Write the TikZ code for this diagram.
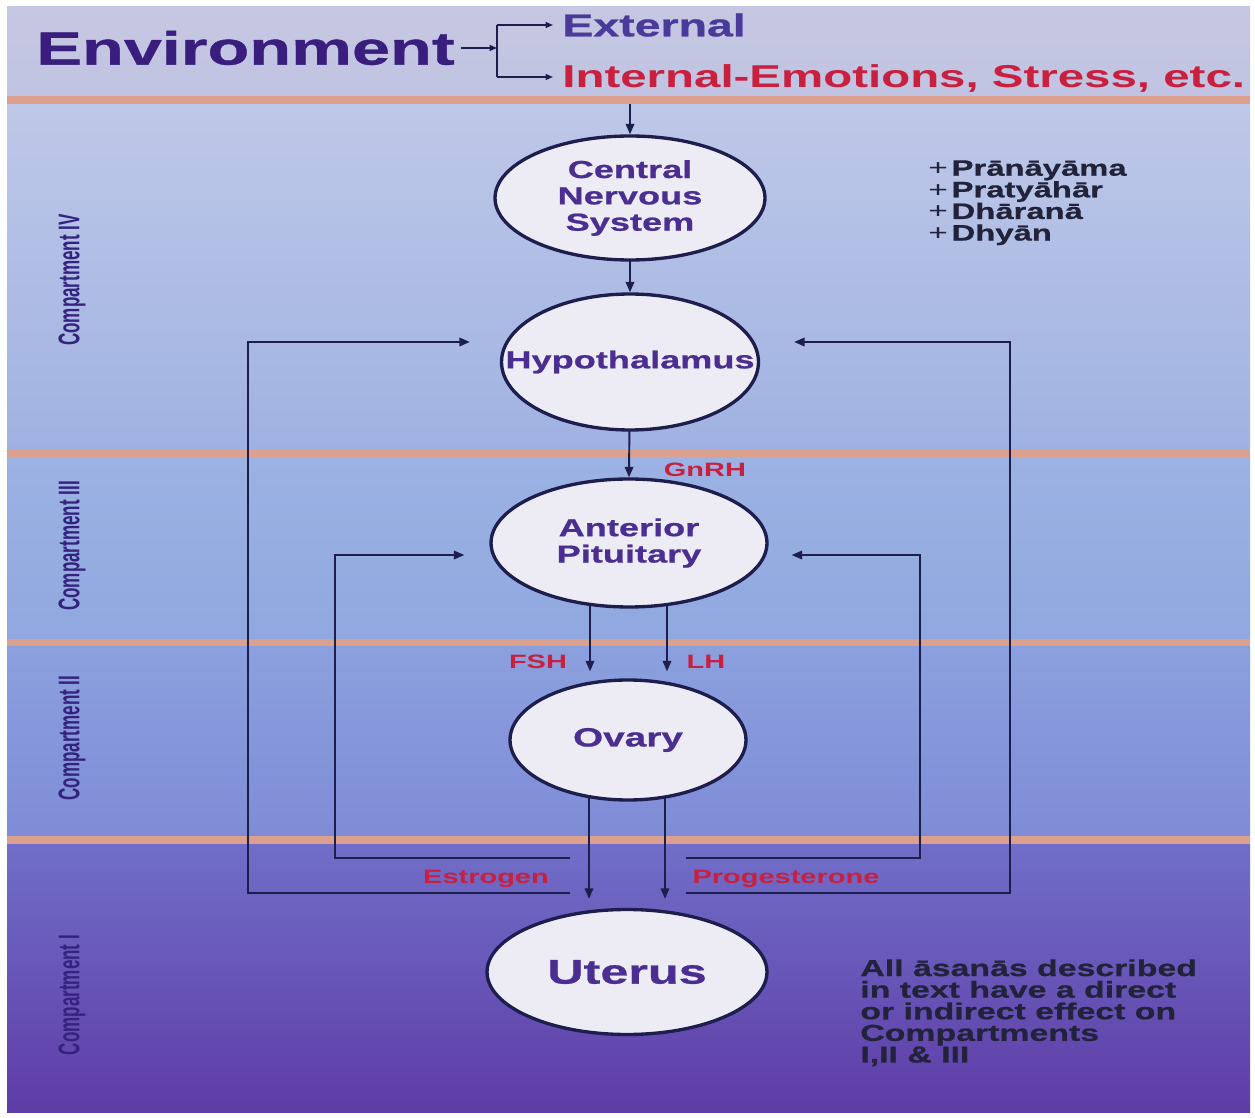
\documentclass[tikz,border=0pt]{standalone}
\usepackage{fontspec}
\setmainfont{Liberation Sans}
\newfontfamily\widefont[FakeStretch=1.5]{Liberation Sans}
\newfontfamily\heavyfont[FakeStretch=1.47,FakeBold=0.8]{Liberation Sans Bold}
\newfontfamily\narrowfont[FakeStretch=0.57]{Liberation Sans}
\usetikzlibrary{shapes.geometric,arrows.meta,calc}
\pgfdeclarelayer{back}
\pgfdeclarelayer{mid}
\pgfsetlayers{back,mid,main}

\definecolor{inkline}{HTML}{1E1E4E}
\definecolor{nodetext}{HTML}{4A2E92}
\definecolor{envtext}{HTML}{3A1E7E}
\definecolor{exttext}{HTML}{4A3A9A}
\definecolor{hormone}{HTML}{C8203E}
\definecolor{divider}{HTML}{DCA08E}
\definecolor{ellfill}{HTML}{EDECF4}
\definecolor{listtext}{HTML}{22223A}
\definecolor{complabel}{HTML}{33237E}

\tikzset{
  organ/.style={ellipse, draw=inkline, line width=1.9pt, fill=ellfill,
    inner xsep=-3cm, inner ysep=-2cm,
    text=nodetext, font=\heavyfont\fontsize{14}{15}\selectfont, align=center},
  arr/.style={draw=inkline, line width=1.1pt, -{Triangle[length=0.21cm,width=0.17cm]}},
  arrsmall/.style={draw=inkline, line width=0.9pt, -{Triangle[length=0.15cm,width=0.12cm]}},
  link/.style={draw=inkline, line width=0.9pt},
  hormonelabel/.style={text=hormone, font=\widefont\bfseries\fontsize{11}{11}\selectfont, inner sep=0pt},
  complbl/.style={rotate=90, text=complabel, font=\narrowfont\bfseries\fontsize{17}{17}\selectfont, inner sep=0pt},
  band/.style={fill=divider}
}

\begin{document}
\begin{tikzpicture}[x=0.02cm, y=-0.02cm]
\useasboundingbox (0,0) rectangle (1255,1118);

% background panels and divider bands
\begin{pgfonlayer}{back}
  \fill[white] (0,0) rectangle (1255,1118);
  \shade[top color={rgb,255:red,198;green,199;blue,226}, bottom color={rgb,255:red,192;green,196;blue,226}] (7,7) rectangle (1250,96);
  \shade[top color={rgb,255:red,190;green,200;blue,232}, bottom color={rgb,255:red,160;green,178;blue,226}] (7,104) rectangle (1250,450);
  \shade[top color={rgb,255:red,156;green,178;blue,228}, bottom color={rgb,255:red,144;green,168;blue,223}] (7,457) rectangle (1250,639);
  \shade[top color={rgb,255:red,140;green,160;blue,222}, bottom color={rgb,255:red,126;green,140;blue,214}] (7,646) rectangle (1250,836);
  \shade[top color={rgb,255:red,112;green,110;blue,200}, bottom color={rgb,255:red,94;green,60;blue,166}] (7,844) rectangle (1250,1112);
  \fill[band] (7,96) rectangle (1250,104);
  \fill[band] (7,449) rectangle (1250,457);
  \fill[band] (7,639) rectangle (1250,646);
  \fill[band] (7,836) rectangle (1250,844);
\end{pgfonlayer}

% header
\node[anchor=west, inner sep=0pt, text=envtext, font=\heavyfont\fontsize{26.5}{26.5}\selectfont] (env) at (36,48) {Environment};
\node[anchor=west, inner sep=0pt, text=exttext, font=\heavyfont\fontsize{18}{18}\selectfont] (ext) at (562,25) {External};
\node[anchor=west, inner sep=0pt, text=hormone, font=\widefont\bfseries\fontsize{18}{18}\selectfont] (int) at (562,78) {Internal-Emotions, Stress, etc.};
\coordinate (split) at (497,48);
\coordinate (splittop) at (497,25);
\coordinate (splitbot) at (497,77);
\draw[arrsmall] ($(env.east)+(6,0)$) -- (split);
\draw[link] (splittop) -- (splitbot);
\draw[arrsmall] (splittop) -- ($(splittop -| ext.west)+(-9,0)$);
\draw[arrsmall] (splitbot) -- ($(splitbot -| int.west)+(-9,0)$);

% compartment labels
\node[complbl] (c4) at (72,280) {Compartment IV};
\node[complbl] (c3) at (72,546) {Compartment III};
\node[complbl] (c2) at (72,738) {Compartment II};
\node[complbl] (c1) at (72,995) {Compartment I};

% organs
\node[organ, minimum width=5.4cm, minimum height=2.48cm] (cns) at (630,198) {Central\\Nervous\\System};
\node[organ, minimum width=5.14cm, minimum height=2.72cm] (hyp) at (630,362) {Hypothalamus};
\node[organ, minimum width=5.52cm, minimum height=2.56cm] (ap) at (629,543) {Anterior\\Pituitary};
\node[organ, minimum width=4.72cm, minimum height=2.4cm, font=\heavyfont\fontsize{15}{16}\selectfont] (ovary) at (628,740) {Ovary};
\node[organ, minimum width=5.6cm, minimum height=2.5cm, font=\heavyfont\fontsize{19.5}{20}\selectfont] (uterus) at (627,972) {Uterus};

% side notes
\node[anchor=north west, inner sep=0pt, align=left, text=listtext, font=\heavyfont\fontsize{12.7}{12.3}\selectfont] (yoga) at (928,160)
  {{\widefont\mdseries +}\,Prānāyāma\\{\widefont\mdseries +}\,Pratyāhār\\{\widefont\mdseries +}\,Dhāranā\\{\widefont\mdseries +}\,Dhyān};
\node[anchor=north west, inner sep=0pt, align=left, text=listtext, font=\heavyfont\fontsize{13.1}{12.3}\selectfont] (asana) at (860,959)
  {All āsanās described\\in text have a direct\\or indirect effect on\\Compartments\\I,II \& III};

% hormone labels
\node[hormonelabel] (gnrh) at (705,470) {GnRH};
\node[hormonelabel] (fsh) at (538,662) {FSH};
\node[hormonelabel] (lh) at (706,662) {LH};
\node[hormonelabel] (estr) at (486,879) {Estrogen};
\node[hormonelabel] (prog) at (786,879) {Progesterone};

% connectors
\coordinate (hdr) at (630,104);
\coordinate (fshx) at (590,0);
\coordinate (lhx) at (667,0);
\coordinate (estx) at (589,0);
\coordinate (progx) at (665,0);
\coordinate (eIn) at (570,858);
\coordinate (eOut) at (570,893);
\coordinate (pIn) at (686,858);
\coordinate (pOut) at (686,893);

\begin{pgfonlayer}{mid}
  \draw[arr] (hdr) -- (cns.north);
  \draw[arr] (cns.center) -- (hyp.north);
  \draw[arr] (hyp.center) -- (ap.north);
  \draw[arr] (ap.center -| fshx) -- ($(ovary.north -| fshx)+(0,-7)$);
  \draw[arr] (ap.center -| lhx) -- ($(ovary.north -| lhx)+(0,-7)$);
  \draw[arr] (ovary.center -| estx) -- ($(uterus.north -| estx)+(0,-9)$);
  \draw[arr] (ovary.center -| progx) -- ($(uterus.north -| progx)+(0,-9)$);
  % feedback loops
  \draw[arr] (eOut) -- (248,893) -- (248,342) -- ($(hyp.west)+(-30,-20)$);
  \draw[arr] (pOut) -- (1010,893) -- (1010,342) -- ($(hyp.east)+(34,-20)$);
  \draw[arr] (eIn) -- (335,858) -- (335,555) -- ($(ap.west)+(-25,12)$);
  \draw[arr] (pIn) -- (920,858) -- (920,555) -- ($(ap.east)+(23,12)$);
\end{pgfonlayer}
\end{tikzpicture}
\end{document}
